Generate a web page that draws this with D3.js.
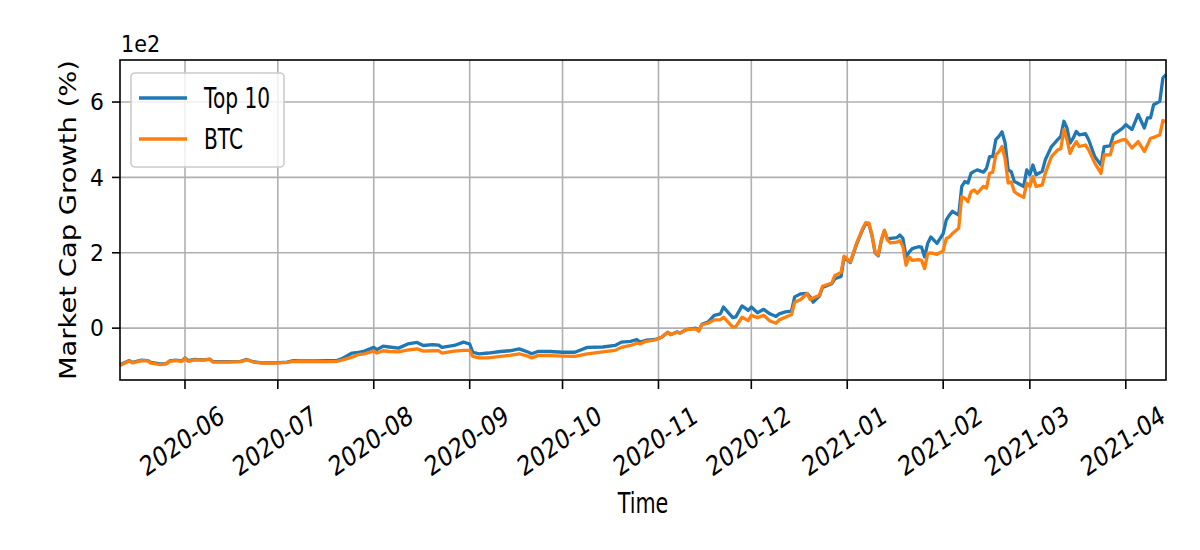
<!DOCTYPE html>
<html><head><meta charset="utf-8">
<script src="https://cdn.jsdelivr.net/npm/d3@7"></script>
<style>body{margin:0;background:#fff}text{font-family:"DejaVu Sans",sans-serif;fill:#000}</style>
</head><body><svg id="c" width="1200" height="550"></svg>
<script>
const dates = ["2020-05-11","2020-05-14","2020-05-15","2020-05-18","2020-05-20","2020-05-21","2020-05-24","2020-05-26","2020-05-27","2020-05-29","2020-05-31","2020-06-01","2020-06-02","2020-06-04","2020-06-07","2020-06-09","2020-06-10","2020-06-15","2020-06-19","2020-06-21","2020-06-23","2020-06-26","2020-06-30","2020-07-04","2020-07-06","2020-07-08","2020-07-13","2020-07-17","2020-07-20","2020-07-22","2020-07-25","2020-07-27","2020-07-29","2020-08-01","2020-08-02","2020-08-04","2020-08-06","2020-08-09","2020-08-12","2020-08-15","2020-08-17","2020-08-20","2020-08-22","2020-08-23","2020-08-27","2020-08-30","2020-09-01","2020-09-02","2020-09-04","2020-09-07","2020-09-11","2020-09-14","2020-09-17","2020-09-20","2020-09-21","2020-09-23","2020-09-27","2020-10-01","2020-10-05","2020-10-09","2020-10-14","2020-10-18","2020-10-20","2020-10-23","2020-10-25","2020-10-26","2020-10-28","2020-10-31","2020-11-02","2020-11-04","2020-11-05","2020-11-07","2020-11-08","2020-11-10","2020-11-13","2020-11-14","2020-11-15","2020-11-17","2020-11-19","2020-11-21","2020-11-22","2020-11-25","2020-11-26","2020-11-28","2020-11-30","2020-12-01","2020-12-03","2020-12-05","2020-12-07","2020-12-09","2020-12-10","2020-12-12","2020-12-14","2020-12-15","2020-12-17","2020-12-19","2020-12-20","2020-12-21","2020-12-23","2020-12-24","2020-12-27","2020-12-28","2020-12-30","2020-12-31","2021-01-02","2021-01-04","2021-01-06","2021-01-07","2021-01-08","2021-01-09","2021-01-10","2021-01-11","2021-01-12","2021-01-13","2021-01-14","2021-01-15","2021-01-17","2021-01-18","2021-01-19","2021-01-20","2021-01-21","2021-01-22","2021-01-24","2021-01-25","2021-01-26","2021-01-27","2021-01-28","2021-01-30","2021-02-01","2021-02-02","2021-02-03","2021-02-04","2021-02-06","2021-02-07","2021-02-08","2021-02-09","2021-02-10","2021-02-11","2021-02-12","2021-02-14","2021-02-15","2021-02-16","2021-02-17","2021-02-18","2021-02-19","2021-02-20","2021-02-21","2021-02-22","2021-02-23","2021-02-24","2021-02-25","2021-02-27","2021-02-28","2021-03-01","2021-03-02","2021-03-03","2021-03-05","2021-03-06","2021-03-08","2021-03-10","2021-03-11","2021-03-12","2021-03-13","2021-03-14","2021-03-15","2021-03-16","2021-03-17","2021-03-19","2021-03-20","2021-03-22","2021-03-24","2021-03-25","2021-03-27","2021-03-28","2021-03-31","2021-04-01","2021-04-03","2021-04-05","2021-04-07","2021-04-08","2021-04-09","2021-04-10","2021-04-12","2021-04-13","2021-04-14"];
const top10 = [-97,-86,-91,-85,-86,-91,-95,-94,-87,-85,-87,-79,-86,-83,-84,-82,-89,-89,-88,-83,-89,-92,-92,-90,-86,-87,-87,-86,-86,-80,-66,-64,-61,-51,-57,-48,-50,-53,-42,-38,-46,-44,-45,-51,-46,-37,-42,-64,-68,-66,-62,-60,-55,-64,-68,-62,-62,-64,-64,-51,-50,-46,-37,-35,-30,-37,-32,-30,-24,-11,-17,-10,-13,-4,0,-6,10,16,34,38,56,28,30,59,47,56,41,50,38,31,38,43,45,83,91,92,83,69,85,108,118,131,137,189,174,222,262,278,276,245,200,192,232,258,236,238,240,247,238,189,202,211,216,215,189,225,242,225,251,287,300,310,300,376,389,385,411,416,420,414,424,455,455,500,509,521,492,420,415,389,385,376,420,407,433,407,416,447,482,500,509,549,531,491,504,522,513,516,500,455,433,482,484,513,531,540,527,567,531,558,558,593,602,664,673];
const btc = [-99,-87,-92,-86,-87,-93,-97,-95,-88,-86,-88,-80,-88,-84,-85,-83,-90,-90,-89,-84,-90,-93,-93,-91,-88,-89,-89,-89,-88,-84,-77,-70,-68,-61,-66,-60,-62,-63,-58,-55,-61,-60,-60,-66,-61,-59,-59,-75,-79,-79,-75,-72,-68,-75,-79,-73,-73,-74,-75,-68,-63,-59,-51,-46,-40,-42,-35,-31,-24,-11,-17,-11,-13,-4,-2,-8,9,13,22,22,29,3,4,29,20,34,28,34,19,13,22,29,36,69,76,92,76,80,87,111,120,140,148,191,176,225,265,280,279,247,202,194,234,260,234,226,228,232,216,167,189,180,182,180,158,198,200,196,205,238,242,251,265,349,345,336,362,367,358,376,372,411,414,460,468,482,450,385,388,362,356,347,385,376,402,376,380,411,455,473,476,527,500,464,482,495,482,486,473,438,411,460,460,491,500,500,478,495,469,486,504,506,513,551,547];
const seriesNames = ["Top 10","BTC"];
const seriesColors = ["#1f77b4","#ff7f0e"];
const yTickValues = [0,200,400,600];
const yTickLabels = ["0","2","4","6"];

const parse = d3.timeParse("%Y-%m-%d");
const D = dates.map(parse);
const svg = d3.select("#c");
const L = 120, R = 1166, T = 60, B = 380;
const x = d3.scaleTime().domain(d3.extent(D)).range([L, R]);
const all = top10.concat(btc);
const mn = d3.min(all), mx = d3.max(all), pad = (mx - mn) * 0.05;
const y = d3.scaleLinear().domain([mn - pad, mx + pad]).range([B, T]);
const xTicks = d3.timeMonth.every(1).range(d3.timeMonth.ceil(D[0]), D[D.length-1]);
const fmt = d3.timeFormat("%Y-%m");

// grid
const g = svg.append("g");
g.selectAll(".vx").data(xTicks).enter().append("line")
  .attr("x1", d => x(d)).attr("x2", d => x(d)).attr("y1", T).attr("y2", B)
  .attr("stroke", "#b0b0b0").attr("stroke-width", 1.6);
g.selectAll(".hy").data(yTickValues).enter().append("line")
  .attr("x1", L).attr("x2", R).attr("y1", d => y(d)).attr("y2", d => y(d))
  .attr("stroke", "#b0b0b0").attr("stroke-width", 1.6);

// lines
const line = d3.line().x((d, i) => x(D[i])).y(d => y(d));
[top10, btc].forEach((s, k) => {
  svg.append("path").datum(s).attr("d", line).attr("fill", "none")
    .attr("stroke", seriesColors[k]).attr("stroke-width", 3.3).attr("stroke-linejoin", "round");
});

// spines
svg.append("rect").attr("x", L).attr("y", T).attr("width", R - L).attr("height", B - T)
  .attr("fill", "none").attr("stroke", "#000").attr("stroke-width", 1.6);

// x ticks
xTicks.forEach(d => {
  svg.append("line").attr("x1", x(d)).attr("x2", x(d)).attr("y1", B).attr("y2", B + 9)
    .attr("stroke", "#000").attr("stroke-width", 1.6);
  svg.append("text").text(fmt(d)).attr("font-size", 27).attr("text-anchor", "middle")
    .attr("dominant-baseline", "central")
    .attr("transform", `translate(${x(d) - 3},441) scale(0.82,1) rotate(-30)`);
});
// y ticks
yTickValues.forEach((v, i) => {
  svg.append("line").attr("x1", L - 8).attr("x2", L).attr("y1", y(v)).attr("y2", y(v))
    .attr("stroke", "#000").attr("stroke-width", 1.6);
  svg.append("text").text(yTickLabels[i]).attr("font-size", 23).attr("text-anchor", "end")
    .attr("dominant-baseline", "central")
    .attr("transform", `translate(104,${y(v)}) scale(0.95,1)`);
});
svg.append("text").text("1e2").attr("font-size", 23)
  .attr("transform", "translate(121,52) scale(0.9,1)");

// axis labels
svg.append("text").text("Time").attr("font-size", 28).attr("text-anchor", "middle")
  .attr("transform", `translate(${(L + R) / 2},513) scale(0.74,1)`);
svg.append("text").text("Market Cap Growth (%)").attr("font-size", 27.4).attr("text-anchor", "middle")
  .attr("transform", `translate(76,${(T + B) / 2}) rotate(-90) scale(1,0.82)`);

// legend
const lg = svg.append("g");
lg.append("rect").attr("x", 131).attr("y", 73).attr("width", 153).attr("height", 94).attr("rx", 4)
  .attr("fill", "#fff").attr("fill-opacity", 0.8).attr("stroke", "#cccccc").attr("stroke-width", 1.6);
seriesNames.forEach((n, i) => {
  const yy = 98 + i * 41;
  lg.append("line").attr("x1", 139).attr("x2", 187).attr("y1", yy).attr("y2", yy)
    .attr("stroke", seriesColors[i]).attr("stroke-width", 3.3);
  lg.append("text").text(n).attr("font-size", 28).attr("dominant-baseline", "central")
    .attr("transform", `translate(204,${yy}) scale(0.72,1)`);
});
</script></body></html>
